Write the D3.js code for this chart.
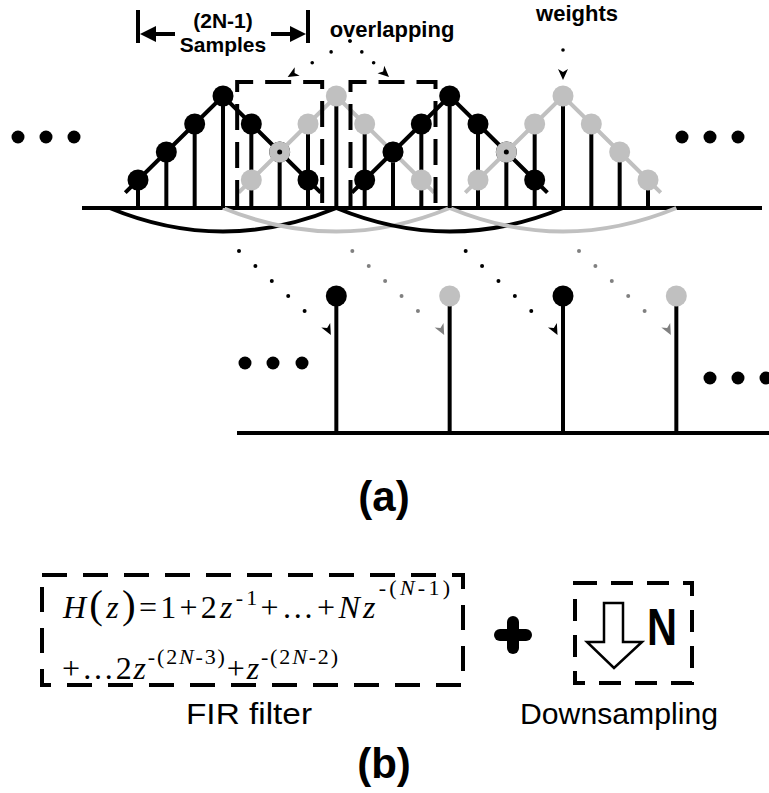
<!DOCTYPE html>
<html>
<head>
<meta charset="utf-8">
<script src="https://cdnjs.cloudflare.com/ajax/libs/d3/7.8.5/d3.min.js"></script>
<style>
  html, body { margin: 0; padding: 0; background: #fff; }
  svg { display: block; }
</style>
</head>
<body>
<script>
// filter weights of one window (N = 4, 2N-1 samples)
const weights = [1, 2, 3, 4, 3, 2, 1];
// first sample of each overlapping window
const windowStarts = [0, 4, 8, 12];
const windowColors = ["black", "grey", "black", "grey"];
// sample kept by the downsampler for each window
const outputIdx = [7, 11, 15, 19];
const outputColors = ["black", "grey", "black", "grey"];

const dimLabel = ["(2N-1)", "Samples"];
const overlapLabel = "overlapping";
const weightsLabel = "weights";
const panelLabels = ["(a)", "(b)"];
const blockLabels = ["FIR filter", "Downsampling"];
const downLabel = "N";

// H(z) as [text, kind, raise]; kinds: i italic, r roman, o operator, p big paren, s superscript, si italic superscript
const formula1 = [["H","i"],["(","p"],["z","i"],[")","p"],["=","o"],["1","r"],["+","o"],["2","r"],["z","i"],
  ["-1","s",13],["+","o"],["…","o"],["+","o"],["N","i"],["z","i"],["-(","s",23],["N","si",23],["-1)","s",23]];
const formula2 = [["+","r"],["…","r"],["2","r"],["z","i"],["-(2","s",15],["N","si",15],["-3)","s",15],
  ["+","o"],["z","i"],["-(2","s",15],["N","si",15],["-2)","s",15]];

const col = { black: "#000", grey: "#c0c0c0", dot: { black: "#000", grey: "#808080" } };

const W = 769, H = 793;
const svg = d3.select("body").append("svg").attr("width", W).attr("height", H);

const x = d3.scaleLinear().domain([0, 18]).range([138, 648]);
const y = d3.scaleLinear().domain([0, 4]).range([208, 96]);
const yLow = d3.scaleLinear().domain([0, 1]).range([433, 296]);

const sans = "'Liberation Sans', Arial, sans-serif";
const serif = "'Liberation Serif', 'Times New Roman', serif";

function head(g, tx, ty, ang, color, big) {
  const d = big ? "M0,0L-16,-8L-16,8Z" : "M0,0L-11,-5L-8,0L-11,5Z";
  g.append("path").attr("d", d).attr("fill", color)
    .attr("transform", `translate(${tx},${ty}) rotate(${ang})`);
}

// ---------- (a) upper: overlapping windows ----------
const upper = svg.append("g");

upper.append("line").attr("x1", 82).attr("x2", 762).attr("y1", y(0)).attr("y2", y(0))
  .attr("stroke", "#000").attr("stroke-width", 4);

// arcs under each window
windowStarts.forEach((s, j) => {
  const p = d3.path();
  p.moveTo(x(s - 1), y(0));
  p.quadraticCurveTo(x(s + 3), y(0) + 47, x(s + 7), y(0));
  upper.append("path").attr("d", p.toString()).attr("fill", "none")
    .attr("stroke", col[windowColors[j]]).attr("stroke-width", 4);
});

// samples
const samples = [];
windowStarts.forEach((s, j) => weights.forEach((w, k) => samples.push({ i: s + k, h: w, win: j })));
const stems = d3.rollups(samples, v => d3.max(v, d => d.h), d => d.i);

upper.selectAll(".stem").data(stems).join("line")
  .attr("x1", d => x(d[0])).attr("x2", d => x(d[0]))
  .attr("y1", y(0)).attr("y2", d => y(d[1]))
  .attr("stroke", "#000").attr("stroke-width", 4);

const line = d3.line().x(d => x(d[0])).y(d => y(d[1]));
windowStarts.forEach((s, j) => {
  const c = col[windowColors[j]];
  const pts = [[s - 0.45, 0.55]].concat(weights.map((w, k) => [s + k, w]), [[s + 6.45, 0.55]]);
  const g = upper.append("g");
  g.append("path").attr("d", line(pts)).attr("fill", "none").attr("stroke", c).attr("stroke-width", 4);
  g.selectAll("circle").data(weights).join("circle")
    .attr("cx", (w, k) => x(s + k)).attr("cy", w => y(w)).attr("r", 10.5).attr("fill", c);
  // grey drawn over a black sample: the black line end still shows
  if (windowColors[j] === "grey") {
    weights.forEach((w, k) => {
      const hit = samples.find(d => d.win < j && d.i === s + k && d.h === w && windowColors[d.win] === "black");
      if (hit) g.append("circle").attr("cx", x(s + k)).attr("cy", y(w)).attr("r", 2.5).attr("fill", "#000");
    });
  }
});

// dashed overlap brackets (first two overlaps)
const overlaps = windowStarts.slice(1).map((s, j) => [s, windowStarts[j] + weights.length - 1]);
overlaps.slice(0, 2).forEach(o => {
  upper.append("path")
    .attr("d", `M${x(o[0] - 0.5)},${y(0) - 2}V${y(4.5)}H${x(o[1] + 0.5)}V${y(0) - 2}`)
    .attr("fill", "none").attr("stroke", "#000").attr("stroke-width", 4)
    .attr("stroke-dasharray", "26,12");
});

// ellipses
[[18, 137], [46, 137], [74, 137], [682, 137], [710, 137], [738, 137]].forEach(p =>
  upper.append("circle").attr("cx", p[0]).attr("cy", p[1]).attr("r", 6.5).attr("fill", "#000"));

// (2N-1) samples dimension
const d0 = x(0), d1 = x(weights.length - 1);
[d0, d1].forEach(v => upper.append("line").attr("x1", v).attr("x2", v).attr("y1", 10).attr("y2", 43)
  .attr("stroke", "#000").attr("stroke-width", 4));
upper.append("line").attr("x1", d0 + 14).attr("x2", d0 + 37).attr("y1", 34).attr("y2", 34).attr("stroke", "#000").attr("stroke-width", 4);
upper.append("line").attr("x1", d1 - 37).attr("x2", d1 - 14).attr("y1", 34).attr("y2", 34).attr("stroke", "#000").attr("stroke-width", 4);
head(upper, d0 + 2, 34, 180, "#000", true);
head(upper, d1 - 2, 34, 0, "#000", true);
upper.append("text").attr("x", x(3)).attr("y", 28).attr("text-anchor", "middle")
  .style("font", `bold 21px ${sans}`).text(dimLabel[0]);
upper.append("text").attr("x", x(3)).attr("y", 52).attr("text-anchor", "middle")
  .style("font", `bold 21px ${sans}`).text(dimLabel[1]);

// overlapping label + dotted arrows
upper.append("text").attr("x", 392).attr("y", 37).attr("text-anchor", "middle")
  .style("font", `bold 22px ${sans}`).text(overlapLabel);
const oa = [[350, 41], [x((overlaps[0][0] + overlaps[0][1]) / 2) + 8, 77], [x((overlaps[1][0] + overlaps[1][1]) / 2) - 4, 77]];
[oa[1], oa[2]].forEach(t => {
  const dx = t[0] - oa[0][0], dy = t[1] - oa[0][1];
  for (let k = 0; k < 3; k++) {
    upper.append("circle").attr("cx", oa[0][0] + dx * k / 3.3).attr("cy", oa[0][1] + dy * k / 3.3).attr("r", 1.8).attr("fill", "#000");
  }
  head(upper, t[0], t[1], Math.atan2(dy, dx) * 180 / Math.PI, "#000", false);
});

// weights label + arrow
const wx = x(windowStarts[3] + 3);
upper.append("text").attr("x", 577).attr("y", 21).attr("text-anchor", "middle")
  .style("font", `bold 22px ${sans}`).text(weightsLabel);
upper.append("circle").attr("cx", wx).attr("cy", 50).attr("r", 1.8).attr("fill", "#000");
head(upper, wx, 80, 90, "#000", false);

// ---------- (a) lower: downsampled output ----------
const low = svg.append("g");
low.append("line").attr("x1", 237).attr("x2", W).attr("y1", yLow(0)).attr("y2", yLow(0))
  .attr("stroke", "#000").attr("stroke-width", 4);
low.selectAll(".ostem").data(outputIdx).join("line")
  .attr("x1", d => x(d)).attr("x2", d => x(d)).attr("y1", yLow(0)).attr("y2", yLow(1))
  .attr("stroke", "#000").attr("stroke-width", 4);
low.selectAll(".odot").data(outputIdx).join("circle")
  .attr("cx", d => x(d)).attr("cy", yLow(1)).attr("r", 10.5).attr("fill", (d, j) => col[outputColors[j]]);

// dotted arrows from window sums to outputs
windowStarts.forEach((s, j) => {
  const c = col.dot[windowColors[j]];
  const sx = x(s + 3) + 16, sy = 251, stx = 16.4, sty = 15;
  for (let k = 0; k < 5; k++) {
    low.append("circle").attr("cx", sx + k * stx).attr("cy", sy + k * sty).attr("r", 2).attr("fill", c);
  }
  head(low, sx + 5.6 * stx, sy + 5.6 * sty, Math.atan2(sty, stx) * 180 / Math.PI + 20, c, false);
});

[[245, 363], [273, 363], [302, 363], [710, 378], [738, 378], [766, 378]].forEach(p =>
  low.append("circle").attr("cx", p[0]).attr("cy", p[1]).attr("r", 6.5).attr("fill", "#000"));

svg.append("text").attr("x", 384).attr("y", 511).attr("text-anchor", "middle")
  .style("font", `bold 42px ${sans}`).text(panelLabels[0]);

// ---------- (b) ----------
const b = svg.append("g");
b.append("rect").attr("x", 42).attr("y", 575).attr("width", 421).attr("height", 110)
  .attr("fill", "none").attr("stroke", "#000").attr("stroke-width", 4).attr("stroke-dasharray", "25,16");

function drawFormula(tokens, x0, yb, len) {
  const t = b.append("text").attr("x", x0).attr("y", yb)
    .attr("textLength", len).attr("lengthAdjust", "spacing")
    .style("font-family", serif).style("font-size", "32px");
  tokens.forEach(tk => {
    const [txt, kind, raise] = tk;
    const sp = t.append("tspan").text(txt).attr("y", yb - (raise || 0));
    if (kind === "i" || kind === "si") sp.style("font-style", "italic");
    if (kind === "s" || kind === "si") sp.style("font-size", "22px");
    if (kind === "p") sp.style("font-size", "41px");
  });
}
drawFormula(formula1, 63, 618, 387);
drawFormula(formula2, 62, 679, 276);

b.append("text").attr("x", 249).attr("y", 724).attr("text-anchor", "middle")
  .attr("textLength", 126).attr("lengthAdjust", "spacingAndGlyphs")
  .style("font", `30px ${sans}`).text(blockLabels[0]);

// plus sign
b.append("line").attr("x1", 500).attr("x2", 526).attr("y1", 635).attr("y2", 635)
  .attr("stroke", "#000").attr("stroke-width", 12).attr("stroke-linecap", "round");
b.append("line").attr("x1", 513).attr("x2", 513).attr("y1", 622).attr("y2", 648)
  .attr("stroke", "#000").attr("stroke-width", 12).attr("stroke-linecap", "round");

// downsampler
b.append("rect").attr("x", 575).attr("y", 583).attr("width", 117).attr("height", 100)
  .attr("fill", "none").attr("stroke", "#000").attr("stroke-width", 4).attr("stroke-dasharray", "22,14");
b.append("path").attr("d", "M604,603H623V642H642L614,668L587,642H604Z")
  .attr("fill", "#fff").attr("stroke", "#000").attr("stroke-width", 2.5).attr("stroke-linejoin", "miter");
b.append("text").attr("x", 647).attr("y", 645).attr("textLength", 30).attr("lengthAdjust", "spacingAndGlyphs")
  .style("font", `bold 51px ${sans}`).text(downLabel);

b.append("text").attr("x", 619).attr("y", 724).attr("text-anchor", "middle")
  .attr("textLength", 198).attr("lengthAdjust", "spacingAndGlyphs")
  .style("font", `30px ${sans}`).text(blockLabels[1]);

svg.append("text").attr("x", 384).attr("y", 778).attr("text-anchor", "middle")
  .style("font", `bold 42px ${sans}`).text(panelLabels[1]);
</script>
</body>
</html>
